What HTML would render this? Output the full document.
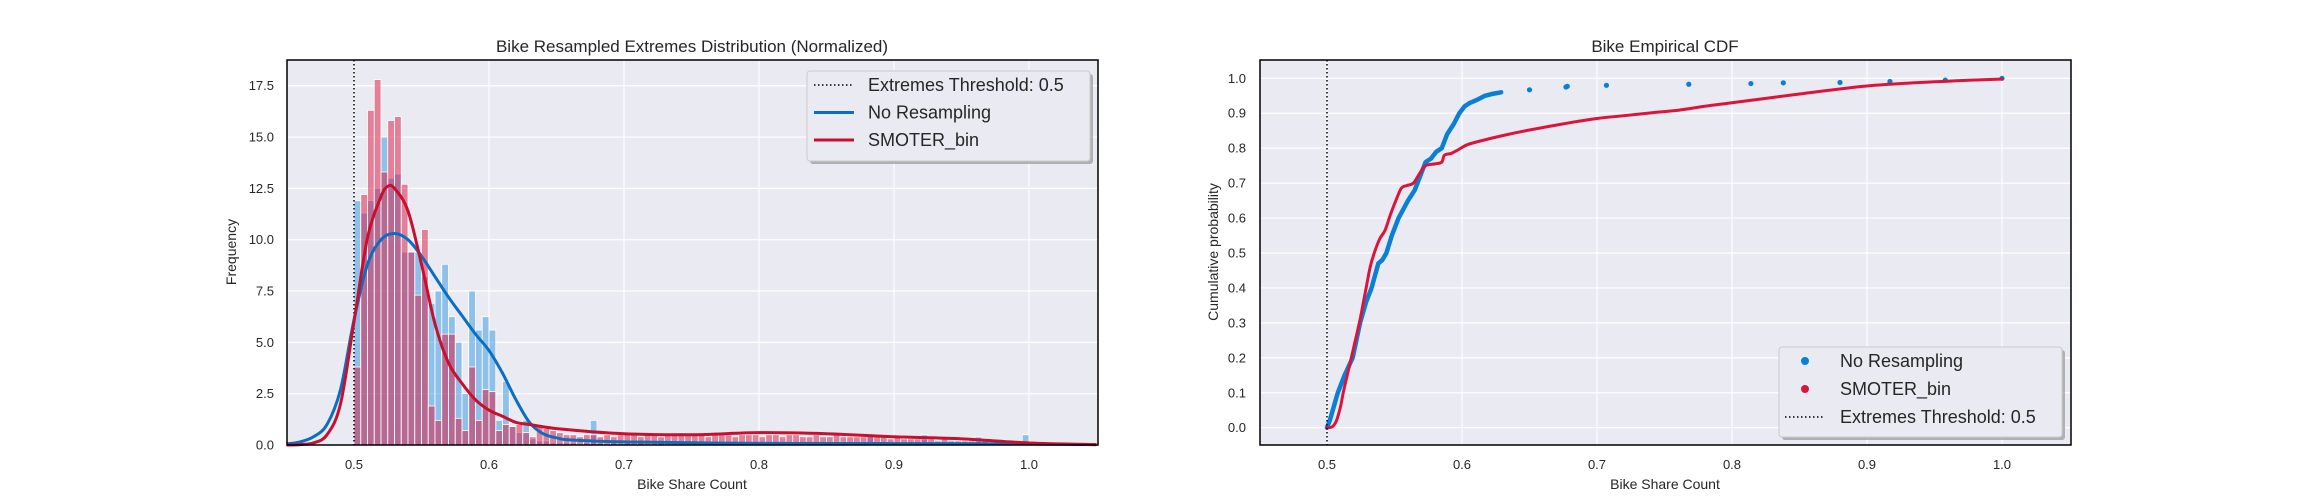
<!DOCTYPE html>
<html><head><meta charset="utf-8"><style>
html,body{margin:0;padding:0;background:#fff;}
svg{display:block;font-family:"Liberation Sans",Arial,sans-serif;}
</style></head><body>
<svg id="c" width="2300" height="500" viewBox="0 0 2300 500" xmlns="http://www.w3.org/2000/svg"></svg>
<script>
// ---- Histogram data (bin start 0.5, width 0.005) ----
const binStart = 0.5;
const binWidth = 0.005;
const blueHist = [11.9,11.3,11.9,12.5,15.0,13.0,13.2,9.4,9.4,9.4,8.2,6.9,7.5,8.8,6.25,5.0,2.5,7.5,5.6,6.25,5.6,1.2,3.1,0.9,0.6,1.2,0.3,0.2,0.2,0.1,0.1,0.1,0.1,0,0.1,1.2,0.1,0,0.1,0,0.1,0,0.1,0,0,0.1,0,0,0.1,0,0,0.1,0,0,0,0.1,0,0,0,0,0.1,0,0,0,0,0,0.1,0,0,0,0,0,0,0,0,0,0.4,0,0,0,0,0,0,0,0.5,0,0,0,0,0,0,0,0.4,0,0,0,0,0,0,0.5];
const pinkHist = [3.8,12.2,16.3,17.8,13.3,15.8,16.0,12.7,9.4,7.3,10.5,1.9,1.2,5.4,5.4,1.3,0.7,3.8,1.2,2.7,2.6,0.7,1.0,0.9,1.0,0.6,0.4,1.0,0.8,0.7,0.6,0.5,0.5,0.4,0.5,0.5,0.4,0.5,0.4,0.5,0.6,0.5,0.4,0.5,0.5,0.4,0.5,0.5,0.6,0.5,0.5,0.5,0.4,0.5,0.5,0.5,0.4,0.5,0.5,0.5,0.4,0.5,0.5,0.4,0.5,0.5,0.4,0.4,0.5,0.4,0.4,0.5,0.4,0.4,0.4,0.4,0.5,0.4,0.4,0.3,0.4,0.3,0.3,0.3,0.3,0.3,0.2,0.3,0.2,0.2,0.2,0.2,0.2,0.2,0.1,0.2,0.1,0.1,0.1,0.1];
// ---- KDE curves ----
const blueKdeX = [0.45,0.46,0.47,0.48,0.49,0.50,0.51,0.52,0.53,0.54,0.55,0.56,0.57,0.58,0.59,0.60,0.61,0.62,0.63,0.64,0.65,0.66,0.70,0.80,0.90,1.00,1.05];
const blueKdeY = [0.05,0.15,0.4,1.0,2.7,6.1,8.8,10.0,10.3,10.0,9.2,8.2,7.2,6.3,5.4,4.6,3.5,2.2,1.1,0.55,0.35,0.25,0.15,0.08,0.07,0.05,0.02];
const redKdeX = [0.45,0.46,0.47,0.48,0.49,0.50,0.51,0.52,0.525,0.53,0.54,0.55,0.56,0.57,0.58,0.59,0.60,0.61,0.62,0.63,0.65,0.70,0.75,0.80,0.85,0.90,0.95,1.00,1.05];
const redKdeY = [0.0,0.02,0.1,0.5,2.0,6.0,10.1,12.1,12.6,12.5,11.4,8.8,5.9,4.0,3.0,2.2,1.7,1.4,1.1,1.0,0.8,0.55,0.5,0.6,0.55,0.4,0.3,0.1,0.02];
// ---- CDF ----
const blueCdfX = [0.5,0.502,0.505,0.508,0.513,0.519,0.5245,0.529,0.533,0.538,0.541,0.544,0.548,0.553,0.56,0.565,0.569,0.573,0.577,0.581,0.585,0.589,0.594,0.598,0.602,0.606,0.612,0.617,0.622,0.629];
const blueCdfP = [0,0.02,0.06,0.1,0.15,0.2,0.3,0.36,0.4,0.47,0.48,0.5,0.55,0.6,0.65,0.68,0.72,0.76,0.77,0.79,0.8,0.84,0.87,0.9,0.92,0.93,0.94,0.95,0.955,0.96];
const blueTailX = [0.65,0.677,0.678,0.707,0.768,0.814,0.838,0.880,0.917,0.958,1.0];
const blueTailP = [0.967,0.975,0.977,0.98,0.983,0.985,0.987,0.988,0.991,0.995,1.0];
const redCdfX = [0.5,0.504,0.507,0.51,0.512,0.515,0.518,0.521,0.524,0.527,0.529,0.532,0.535,0.539,0.543,0.547,0.551,0.555,0.559,0.564,0.569,0.573,0.58,0.585,0.587,0.592,0.597,0.604,0.615,0.63,0.65,0.68,0.7,0.72,0.74,0.761,0.78,0.8,0.85,0.9,0.95,1.0];
const redCdfP = [0,0.003,0.02,0.06,0.1,0.15,0.2,0.25,0.3,0.36,0.4,0.46,0.5,0.54,0.565,0.61,0.65,0.685,0.693,0.70,0.73,0.75,0.755,0.76,0.78,0.785,0.795,0.81,0.822,0.836,0.852,0.873,0.885,0.893,0.901,0.909,0.92,0.93,0.955,0.978,0.99,0.998];
const xTicks = [0.5,0.6,0.7,0.8,0.9,1.0];
const yTicksL = [0,2.5,5,7.5,10,12.5,15,17.5];
const yTicksR = [0,0.1,0.2,0.3,0.4,0.5,0.6,0.7,0.8,0.9,1.0];

const NS="http://www.w3.org/2000/svg";
const svg=document.getElementById('c');
function mk(tag,attrs,parent){const e=document.createElementNS(NS,tag);for(const k in attrs)e.setAttribute(k,attrs[k]);(parent||svg).appendChild(e);return e;}
function smooth(pts){let d='M'+pts[0][0]+','+pts[0][1];for(let i=0;i<pts.length-1;i++){const p0=pts[Math.max(0,i-1)],p1=pts[i],p2=pts[i+1],p3=pts[Math.min(pts.length-1,i+2)];const c1x=p1[0]+(p2[0]-p0[0])/6,c1y=p1[1]+(p2[1]-p0[1])/6,c2x=p2[0]-(p3[0]-p1[0])/6,c2y=p2[1]-(p3[1]-p1[1])/6;d+=`C${c1x},${c1y} ${c2x},${c2y} ${p2[0]},${p2[1]}`;}return d;}

// ===== LEFT =====
const L={x0:287,x1:1098,y0:60,y1:445};
const lx=v=>354+(v-0.5)*1350;
const ly=v=>445-v*20.53;
let g=mk('g',{});

let bg=mk('rect',{x:L.x0,y:L.y0,width:L.x1-L.x0,height:L.y1-L.y0,fill:'#eaeaf2'},g);

xTicks.forEach(t=>{const l=mk('line',{x1:lx(t),x2:lx(t),y1:L.y0,y2:L.y1,stroke:'#fff','stroke-width':1.2},g);
 const tx=mk('text',{x:lx(t),y:469,'font-size':13,fill:'#262626','text-anchor':'middle'},g);tx.textContent=t.toFixed(1);});
yTicksL.forEach(t=>{const l=mk('line',{x1:L.x0,x2:L.x1,y1:ly(t),y2:ly(t),stroke:'#fff','stroke-width':1.2},g);
 const tx=mk('text',{x:274,y:ly(t)+4.5,'font-size':13,fill:'#262626','text-anchor':'end'},g);tx.textContent=t.toFixed(1);});
blueHist.forEach((v,i)=>{if(v<=0)return;const x=lx(binStart+i*binWidth);const r=mk('rect',{x:x,y:ly(v),width:binWidth*1350,height:ly(0)-ly(v),fill:'rgba(31,142,224,0.45)',stroke:'#fff','stroke-width':0.8},g);
 });
pinkHist.forEach((v,i)=>{if(v<=0)return;const x=lx(binStart+i*binWidth);const r=mk('rect',{x:x,y:ly(v),width:binWidth*1350,height:ly(0)-ly(v),fill:'rgba(220,20,60,0.5)',stroke:'#fff','stroke-width':0.8},g);
 });
let th=mk('line',{x1:lx(0.5),x2:lx(0.5),y1:L.y0,y2:L.y1,stroke:'#000','stroke-width':1.5,'stroke-dasharray':'1.5,2.5'},g);

let bk=mk('path',{d:smooth(blueKdeX.map((x,i)=>[lx(x),ly(blueKdeY[i])])),fill:'none',stroke:'#0a6fc2','stroke-width':3},g);

let rk=mk('path',{d:smooth(redKdeX.map((x,i)=>[lx(x),ly(redKdeY[i])])),fill:'none',stroke:'#c8102e','stroke-width':3},g);

let fr=mk('rect',{x:L.x0,y:L.y0,width:L.x1-L.x0,height:L.y1-L.y0,fill:'none',stroke:'#000','stroke-width':1.5},g);

let t1=mk('text',{x:692,y:52,'font-size':17,fill:'#262626','text-anchor':'middle'},g);t1.textContent='Bike Resampled Extremes Distribution (Normalized)';

let xl=mk('text',{x:692,y:489,'font-size':14,fill:'#262626','text-anchor':'middle'},g);xl.textContent='Bike Share Count';

let yl=mk('text',{x:0,y:0,'font-size':14,fill:'#262626','text-anchor':'middle',transform:'translate(236,252) rotate(-90)'},g);yl.textContent='Frequency';

// legend left
let lg=mk('g',{},g);
mk('rect',{x:810,y:74,width:283,height:90,rx:3,fill:'#888',opacity:0.6},lg);
mk('rect',{x:807,y:71,width:283,height:90,rx:3,fill:'#eaeaf2',stroke:'#ccc','stroke-width':1},lg);
const leftLeg=[['Extremes Threshold: 0.5','#000','1.5,2.5'],['No Resampling','#0a6fc2',''],['SMOTER_bin','#c8102e','']];
leftLeg.forEach((e,i)=>{const y=85+i*27.5;const ent=mk('g',{},lg);
 mk('line',{x1:814,x2:854,y1:y,y2:y,stroke:e[1],'stroke-width':e[2]?1.5:3,'stroke-dasharray':e[2]||'none'},ent);
 const t=mk('text',{x:868,y:y+6,'font-size':18,fill:'#262626'},ent);t.textContent=e[0];});

// ===== RIGHT =====
const R={x0:1260,x1:2071,y0:60,y1:445};
const rx=v=>1327+(v-0.5)*1350;
const ry=v=>427.7-v*349.4;
let g2=mk('g',{});
let bg2=mk('rect',{x:R.x0,y:R.y0,width:R.x1-R.x0,height:R.y1-R.y0,fill:'#eaeaf2'},g2);

xTicks.forEach(t=>{const l=mk('line',{x1:rx(t),x2:rx(t),y1:R.y0,y2:R.y1,stroke:'#fff','stroke-width':1.2},g2);
 const tx=mk('text',{x:rx(t),y:469,'font-size':13,fill:'#262626','text-anchor':'middle'},g2);tx.textContent=t.toFixed(1);});
yTicksR.forEach(t=>{const l=mk('line',{x1:R.x0,x2:R.x1,y1:ry(t),y2:ry(t),stroke:'#fff','stroke-width':1.2},g2);
 const tx=mk('text',{x:1246,y:ry(t)+4.5,'font-size':13,fill:'#262626','text-anchor':'end'},g2);tx.textContent=t.toFixed(1);});
let bl=mk('polyline',{points:blueCdfX.map((x,i)=>rx(x)+','+ry(blueCdfP[i])).join(' '),fill:'none',stroke:'#0a7fd6','stroke-width':4.5,'stroke-linecap':'round','stroke-linejoin':'round'},g2);

blueTailX.forEach((x,i)=>{const c=mk('circle',{cx:rx(x),cy:ry(blueTailP[i]),r:2.6,fill:'#0a7fd6'},g2);});
let rl=mk('path',{d:smooth(redCdfX.map((x,i)=>[rx(x),ry(redCdfP[i])])),fill:'none',stroke:'#dc143c','stroke-width':3,'stroke-linecap':'round','stroke-linejoin':'round'},g2);

let th2=mk('line',{x1:rx(0.5),x2:rx(0.5),y1:R.y0,y2:R.y1,stroke:'#000','stroke-width':1.5,'stroke-dasharray':'1.5,2.5'},g2);

let fr2=mk('rect',{x:R.x0,y:R.y0,width:R.x1-R.x0,height:R.y1-R.y0,fill:'none',stroke:'#000','stroke-width':1.5},g2);

let t2=mk('text',{x:1665,y:52,'font-size':17,fill:'#262626','text-anchor':'middle'},g2);t2.textContent='Bike Empirical CDF';

let xl2=mk('text',{x:1665,y:489,'font-size':14,fill:'#262626','text-anchor':'middle'},g2);xl2.textContent='Bike Share Count';

let yl2=mk('text',{x:0,y:0,'font-size':14,fill:'#262626','text-anchor':'middle',transform:'translate(1218,252) rotate(-90)'},g2);yl2.textContent='Cumulative probability';

let lg2=mk('g',{},g2);
mk('rect',{x:1782,y:350,width:283,height:90,rx:3,fill:'#888',opacity:0.6},lg2);
mk('rect',{x:1779,y:347,width:283,height:90,rx:3,fill:'#eaeaf2',stroke:'#ccc','stroke-width':1},lg2);
const rightLeg=[['No Resampling','#0a7fd6','dot'],['SMOTER_bin','#dc143c','dot'],['Extremes Threshold: 0.5','#000','line']];
rightLeg.forEach((e,i)=>{const y=361+i*28;const ent=mk('g',{},lg2);
 if(e[2]==='dot')mk('circle',{cx:1805,cy:y,r:4,fill:e[1]},ent);else mk('line',{x1:1785,x2:1825,y1:y,y2:y,stroke:'#000','stroke-width':1.5,'stroke-dasharray':'1.5,2.5'},ent);
 const t=mk('text',{x:1840,y:y+6,'font-size':18,fill:'#262626'},ent);t.textContent=e[0];});
</script>
</body></html>
